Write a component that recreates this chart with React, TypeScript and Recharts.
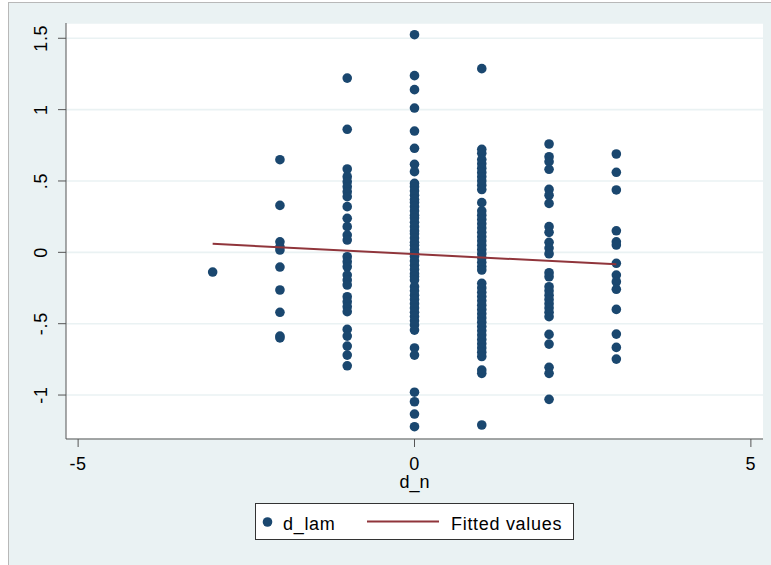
import React from 'react';
import { ScatterChart, Scatter, XAxis, YAxis, CartesianGrid } from 'recharts';

// d_n categories (x values of the columns of points)
const xCategories = [-3, -2, -1, 0, 1, 2, 3];

// d_lam values, one array per d_n column
const colM3 = [-0.138];
const colM2 = [0.649, 0.329, 0.074, 0.039, 0.016, -0.103, -0.264, -0.42, -0.587, -0.6];
const colM1 = [
  1.221, 0.862, 0.584, 0.53, 0.495, 0.46, 0.425, 0.39, 0.32, 0.238, 0.18, 0.121, 0.086,
  -0.031, -0.066, -0.101, -0.159, -0.194, -0.229, -0.311, -0.346, -0.381, -0.416,
  -0.54, -0.587, -0.657, -0.72, -0.795,
];
const col0 = [
  1.525, 1.238, 1.14, 1.011, 0.85, 0.729, 0.617, 0.565,
  0.483, 0.46, 0.43, 0.4, 0.37, 0.35, 0.32, 0.29, 0.26, 0.24, 0.21, 0.18, 0.15, 0.13,
  0.1, 0.07, 0.05, 0.02, -0.01, -0.03, -0.06, -0.09, -0.12, -0.15, -0.17, -0.194,
  -0.241, -0.27, -0.3, -0.33, -0.36, -0.39, -0.42, -0.45, -0.48, -0.51, -0.545,
  -0.67, -0.72, -0.98, -1.047, -1.133, -1.222,
];
const col1 = [
  1.287, 0.722, 0.694, 0.65, 0.62, 0.59, 0.56, 0.53, 0.5, 0.47, 0.44, 0.348,
  0.29, 0.26, 0.23, 0.2, 0.17, 0.14, 0.11, 0.08, 0.05, 0.02, -0.01, -0.04, -0.07, -0.1, -0.124,
  -0.217, -0.25, -0.28, -0.31, -0.34, -0.37, -0.4, -0.43, -0.46, -0.49, -0.52, -0.55,
  -0.58, -0.61, -0.64, -0.67, -0.7, -0.73, -0.825, -0.848, -1.21,
];
const col2 = [
  0.759, 0.67, 0.635, 0.582, 0.441, 0.4, 0.343, 0.18, 0.14, 0.07, 0.03, -0.01,
  -0.143, -0.171, -0.241, -0.27, -0.3, -0.33, -0.36, -0.39, -0.42, -0.451,
  -0.575, -0.643, -0.806, -0.848, -1.03,
];
const col3 = [
  0.689, 0.561, 0.437, 0.151, 0.074, 0.051, -0.077, -0.159, -0.206, -0.259,
  -0.4, -0.573, -0.666, -0.748,
];

// Fitted values (linear fit) endpoints
const fitX = [-3, 3];
const fitY = [0.06, -0.084];

// Axis ticks and labels
const xTicks = [-5, 0, 5];
const yTicks = [-1, -0.5, 0, 0.5, 1, 1.5];
const yTickLabels = ['-1', '-.5', '0', '.5', '1', '1.5'];
const xTitle = 'd_n';
const seriesNames = ['d_lam', 'Fitted values'];

const columns = [colM3, colM2, colM1, col0, col1, col2, col3];
const scatterData = columns.flatMap((col, i) => col.map((v) => ({ x: xCategories[i], y: v })));
const fitData = fitX.map((x, i) => ({ x, y: fitY[i] }));

const FONT = '"Liberation Sans", Arial, sans-serif';
const DOT = '#1a476f';
const LINE = '#90353b';
const AXIS = '#555555';
const BG = '#eaf2f3';

const XTick = (props: any) => {
  const { x, y, payload } = props;
  return (
    <text x={x} y={y + 20.5} textAnchor="middle" fontFamily={FONT} fontSize={18} letterSpacing={0.7} fill="#000">
      {String(payload.value)}
    </text>
  );
};

const YTick = (props: any) => {
  const { x, y, payload } = props;
  const idx = yTicks.indexOf(payload.value);
  const label = idx >= 0 ? yTickLabels[idx] : String(payload.value);
  const bx = x - 8.5;
  return (
    <text
      x={bx}
      y={y}
      transform={`rotate(-90, ${bx}, ${y})`}
      textAnchor="middle"
      fontFamily={FONT}
      fontSize={18}
      letterSpacing={0.7}
      fill="#000"
    >
      {label}
    </text>
  );
};

const Dot = (props: any) => {
  const { cx, cy } = props;
  if (cx == null || cy == null) return <g />;
  return <circle cx={cx} cy={cy} r={4.8} fill={DOT} />;
};

const NoShape = () => <g />;

export default function App() {
  return (
    <div style={{ position: 'absolute', left: 0, top: 0, width: 771, height: 565, background: '#fff' }}>
      <div
        style={{
          position: 'absolute',
          left: 8,
          top: 2,
          width: 763,
          height: 563,
          background: BG,
          borderLeft: '1px solid #b8b8b8',
          borderTop: '1px solid #b8b8b8',
          boxSizing: 'border-box',
        }}
      />
      <div style={{ position: 'absolute', left: 66, top: 23, width: 697, height: 416, background: '#fff' }} />
      <div style={{ position: 'absolute', left: 0, top: 0 }}>
        <ScatterChart width={771} height={565} margin={{ top: 23, right: 8, bottom: 0, left: 0 }}>
          <CartesianGrid vertical={false} stroke={BG} strokeWidth={1.6} />
          <XAxis
            type="number"
            dataKey="x"
            domain={[-5.18, 5.18]}
            ticks={xTicks}
            interval={0}
            height={126}
            tickSize={8}
            axisLine={{ stroke: AXIS, strokeWidth: 1 }}
            tickLine={{ stroke: AXIS, strokeWidth: 1 }}
            tick={<XTick />}
            label={{
              value: xTitle,
              position: 'insideTop',
              offset: 36,
              fontFamily: FONT,
              fontSize: 18,
              fill: '#000',
            }}
          />
          <YAxis
            type="number"
            dataKey="y"
            domain={[-1.308, 1.607]}
            ticks={yTicks}
            interval={0}
            width={66}
            tickSize={8}
            axisLine={{ stroke: AXIS, strokeWidth: 1 }}
            tickLine={{ stroke: AXIS, strokeWidth: 1 }}
            tick={<YTick />}
          />
          <Scatter name={seriesNames[0]} data={scatterData} shape={<Dot />} isAnimationActive={false} />
          <Scatter
            name={seriesNames[1]}
            data={fitData}
            line={{ stroke: LINE, strokeWidth: 2 }}
            lineType="joint"
            shape={<NoShape />}
            isAnimationActive={false}
          />
        </ScatterChart>
      </div>
      <div
        style={{
          position: 'absolute',
          left: 255,
          top: 503,
          width: 319,
          height: 37,
          background: '#fff',
          border: '1px solid #333',
          boxSizing: 'border-box',
        }}
      >
        <svg width={317} height={35} style={{ position: 'absolute', left: 0, top: 0 }}>
          <circle cx={11.5} cy={18} r={4.8} fill={DOT} />
          <text x={27} y={25.5} fontFamily={FONT} fontSize={18} letterSpacing={0.7} fill="#000">
            {seriesNames[0]}
          </text>
          <line x1={111} y1={17.5} x2={183} y2={17.5} stroke={LINE} strokeWidth={2} />
          <text x={195} y={25.5} fontFamily={FONT} fontSize={18} letterSpacing={0.7} fill="#000">
            {seriesNames[1]}
          </text>
        </svg>
      </div>
    </div>
  );
}
